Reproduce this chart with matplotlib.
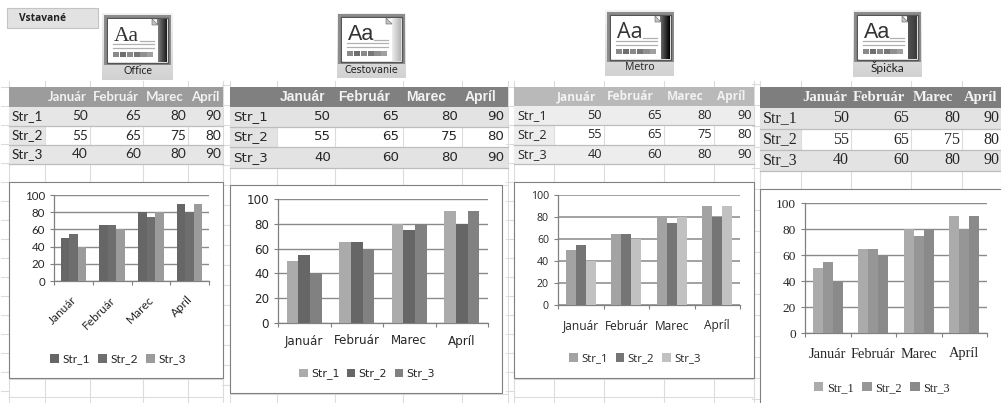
import numpy as np
import matplotlib
matplotlib.use("Agg")
import matplotlib.pyplot as plt
from matplotlib.patches import Rectangle, Polygon

W, H = 1001, 403

# ---- data ----
months = ["Január", "Február", "Marec", "Apríl"]
series_names = ["Str_1", "Str_2", "Str_3"]
str_1 = [50, 65, 80, 90]
str_2 = [55, 65, 75, 80]
str_3 = [40, 60, 80, 90]
y_ticks = [0, 20, 40, 60, 80, 100]
theme_names = ["Office", "Cestovanie", "Metro", "Špička"]
series = [str_1, str_2, str_3]

# ---- layout and styling of each theme panel, in reference pixels ----
panels = [
    dict(font="Lato", hfont="Lato", tfs=9.8, hfs=9.5, afs=8.3, xfs=8.6, lfs=8.6, rot=45, pad=2, hoff=3,
         cols=[9, 45, 90, 143, 188, 223], rows=[87, 107, 126, 145, 164, 182],
         frame=(9, 182, 223, 378), plot=(54, 195, 209, 281),
         colors=["#666666", "#6e6e6e", "#9b9b9b"], head="#9c9c9c", band="#e6e6e6",
         grid=("#8a8a8a", 1.0), xlab=298, leg=(118, 359),
         icon=(102, 13, 173, 80), inner=(107, 18, 168, 63), side=("#888888", "#1c1c1c"),
         aa="Liberation Serif", icon_font="Lato", lab_fs=7.6, lab_y=70),
    dict(font="DejaVu Sans", hfont="Liberation Sans", tfs=9.6, hfs=10, afs=8.6, xfs=8.6, lfs=7.9, rot=0, pad=4, hoff=3,
         cols=[230, 277, 335, 403, 462, 508], rows=[87, 107, 127, 147, 168, 185],
         frame=(230, 185, 502, 393), plot=(278, 199, 488, 323),
         colors=["#ababab", "#666666", "#818181"], head="#808080", band="#e3e3e3",
         grid=("#8a8a8a", 1.0), xlab=341, leg=(367, 374),
         icon=(337, 13, 406, 78), inner=(341, 17, 402, 62), side=("#f4f4f4", "#b4b4b4"),
         aa="Liberation Sans", icon_font="DejaVu Sans", lab_fs=6.9, lab_y=70),
    dict(font="Open Sans", hfont="Open Sans", tfs=9.2, hfs=8.6, afs=7.6, xfs=8.6, lfs=8.2, rot=0, pad=2, hoff=3,
         cols=[514, 554, 604, 664, 714, 754], rows=[87, 106, 125, 145, 164, 182],
         frame=(514, 182, 754, 378), plot=(558, 195, 740, 305),
         colors=["#a3a3a3", "#757575", "#c1c1c1"], head="#b9b9b9", band="#ededed",
         grid=("#9a9a9a", 1.3), xlab=326, leg=(635, 359),
         icon=(605, 10, 674, 76), inner=(610, 15, 671, 60), side=("#707070", "#000000"),
         aa="Open Sans", icon_font="Open Sans", lab_fs=7.6, lab_y=67),
    dict(font="Liberation Serif", hfont="Liberation Serif", tfs=11.5, hfs=10.6, afs=9.6, xfs=10.4, lfs=8.8, rot=0, pad=2, hoff=1.5,
         cols=[760, 801, 851, 911, 962, 1001], rows=[87, 108, 129, 150, 171, 189],
         frame=(760, 189, 1006, 410), plot=(805, 203, 987, 333),
         colors=["#ababab", "#969696", "#8a8a8a"], head="#7e7e7e", band="#e3e3e3",
         grid=("#8a8a8a", 1.0), xlab=354, leg=(882, 388),
         icon=(853, 10, 922, 77), inner=(857, 15, 918, 60), side=("#555555", "#3a3a3a"),
         aa="Liberation Sans", icon_font="Lato", lab_fs=8.6, lab_y=67),
]

TEXT = "#262626"
CELL = "#dcdcdc"

fig = plt.figure(figsize=(W / 100, H / 100), dpi=100, facecolor="white")
bg = fig.add_axes([0, 0, 1, 1], zorder=0)
bg.set_xlim(0, W)
bg.set_ylim(H, 0)
bg.axis("off")


def gradient(box, top, bottom, horizontal=False, z=2):
    x0, y0, x1, y1 = box
    ramp = np.linspace(0, 1, 32)
    img = ramp[None, :] if horizontal else ramp[:, None]
    c0 = matplotlib.colors.to_rgb(top)
    c1 = matplotlib.colors.to_rgb(bottom)
    rgb = np.dstack([c0[i] + (c1[i] - c0[i]) * img for i in range(3)])
    bg.imshow(rgb, extent=(x0, x1, y1, y0), aspect="auto", zorder=z, interpolation="bilinear")


def draw_sheet(p):
    cols, rows = p["cols"], p["rows"]
    left, right = cols[0], cols[-1]
    for x in cols:
        bg.plot([x, x], [81, H], color=CELL, lw=0.8, zorder=1)
    step = rows[2] - rows[1]
    yy = rows[-1] % step
    while yy < H:
        if yy > 81:
            bg.plot([left - 8, left], [yy, yy], color=CELL, lw=0.8, zorder=1)
        yy += step
    for yy in (rows[5], p["frame"][3] + 1, p["frame"][3] + step):
        bg.plot([left, right], [yy, yy], color=CELL, lw=0.8, zorder=1)
    bg.add_patch(Rectangle((left, rows[0]), right - left, rows[1] - rows[0],
                           fc=p["head"], ec="none", zorder=3))
    for i, m in enumerate(months):
        bg.text(cols[i + 1] + p["hoff"], (rows[0] + rows[1]) / 2, m, ha="left", va="center",
                color="#f2f2f2", fontweight="bold", fontsize=p["hfs"],
                family=p["hfont"], zorder=5)
    for r, name in enumerate(series_names):
        y0, y1 = rows[r + 1], rows[r + 2]
        if r == 1:
            bg.add_patch(Rectangle((left, y0), cols[1] - left, y1 - y0, fc=p["band"], ec="none", zorder=3))
        else:
            bg.add_patch(Rectangle((left, y0), right - left, y1 - y0, fc=p["band"], ec="none", zorder=3))
        bg.plot([left, right], [y1, y1], color="#bdbdbd", lw=0.9, zorder=4)
        bg.text(left + 3, (y0 + y1) / 2, name, ha="left", va="center", color=TEXT,
                fontsize=p["tfs"], family=p["font"], zorder=5)
        for c, v in enumerate(series[r]):
            bg.text(cols[c + 2] - p["pad"], (y0 + y1) / 2, str(v), ha="right", va="center", color=TEXT,
                    fontsize=p["tfs"], family=p["font"], zorder=5)
    fx0, fy0, fx1, fy1 = p["frame"]
    bg.add_patch(Rectangle((fx0, fy0), fx1 - fx0, fy1 - fy0, fc="white", ec="#808080", lw=0.8, zorder=6))


def draw_icon(p, name):
    x0, y0, x1, y1 = p["icon"]
    gradient((x0, y0, x1, y1), "#f2f2f2", "#d2d2d2", z=2)
    ix0, iy0, ix1, iy1 = p["inner"]
    bg.add_patch(Rectangle((ix0 - 3, iy0 - 3), ix1 - ix0 + 6, 5 + iy1 - iy0, fc="#8c8c8c", ec="none", zorder=3))
    bg.add_patch(Rectangle((ix0, iy0), ix1 - ix0, iy1 - iy0, fc="white", ec="#555555", lw=1.0, zorder=3.5))
    sx = ix0 + (ix1 - ix0) * 0.82
    gradient((sx, iy0 + 1, ix1 - 1, iy1 - 1), p["side"][0], p["side"][1], horizontal=True, z=4)
    bg.add_patch(Polygon([(ix0 + 1, iy0 + 1), (sx - 5, iy0 + 1), (sx + 1, iy0 + 7),
                          (sx + 1, iy1 - 1), (ix0 + 1, iy1 - 1)], fc="white", ec="none", zorder=4.2))
    bg.add_patch(Polygon([(sx - 5, iy0 + 1), (sx + 1, iy0 + 7), (sx - 5, iy0 + 7)],
                         fc="#c4c4c4", ec="#777777", lw=0.5, zorder=4.3))
    bg.text(ix0 + 7, iy0 + 23, "Aa", ha="left", va="baseline", fontsize=15.5,
            family=p["aa"], color="#333333", zorder=5)
    for frac, start in ((0.50, 0.54), (0.58, 0.10), (0.67, 0.10)):
        yy = iy0 + (iy1 - iy0) * frac
        bg.plot([ix0 + (ix1 - ix0) * start, sx - 3], [yy, yy], color="#b0b0b0", lw=0.9, zorder=5)
    sw_left = ix0 + 6
    sw_w = (sx - 3 - sw_left) / 6
    shades = ["#8a8a8a", "#6f6f6f", "#8a8a8a", "#777777", "#909090", "#a0a0a0"]
    for i, s in enumerate(shades):
        bg.add_patch(Rectangle((sw_left + i * sw_w, iy1 - 11), sw_w - 0.6, 5, fc=s, ec="none", zorder=5))
    bg.text((x0 + x1) / 2, p["lab_y"], name, ha="center", va="center", fontsize=p["lab_fs"],
            family=p["icon_font"], color="#222222", zorder=5)


def draw_chart(p):
    x0, y0, x1, y1 = p["plot"]
    ax = fig.add_axes([x0 / W, 1 - y1 / H, (x1 - x0) / W, (y1 - y0) / H], zorder=3)
    ax.patch.set_alpha(0)
    width = 0.22
    centers = np.arange(len(months)) + 0.5
    for i, (vals, name) in enumerate(zip(series, series_names)):
        ax.bar(centers + (i - 1) * width, vals, width, color=p["colors"][i], label=name, zorder=3)
    ax.set_xlim(0, len(months))
    ax.set_ylim(0, 100)
    ax.set_yticks(y_ticks)
    ax.set_yticklabels([str(t) for t in y_ticks], fontsize=p["afs"], family=p["font"], color=TEXT)
    ax.set_xticks(np.arange(len(months) + 1))
    ax.set_xticklabels([])
    ax.tick_params(axis="x", length=3, width=0.8, color="#808080")
    ax.tick_params(axis="y", length=3, width=0.8, color="#808080", pad=3.5)
    ax.yaxis.grid(True, color=p["grid"][0], lw=p["grid"][1], zorder=1)
    ax.set_axisbelow(True)
    for s in ("top", "right"):
        ax.spines[s].set_visible(False)
    for s in ("left", "bottom"):
        ax.spines[s].set_color("#808080")
        ax.spines[s].set_linewidth(0.9)
    group = (x1 - x0) / len(months)
    for i, m in enumerate(months):
        cx = x0 + (i + 0.5) * group
        if p["rot"]:
            bg.text(cx + 1.5, p["xlab"], m, rotation=p["rot"], rotation_mode="anchor",
                    ha="right", va="center", fontsize=p["xfs"], family=p["font"],
                    color=TEXT, zorder=7)
        else:
            bg.text(cx, p["xlab"], m, ha="center", va="center", fontsize=p["xfs"],
                    family=p["font"], color=TEXT, zorder=7)
    lx, ly = p["leg"]
    leg = ax.legend(loc="center", bbox_to_anchor=(lx / W, 1 - ly / H), bbox_transform=fig.transFigure,
                    ncol=3, frameon=False, handlelength=0.75, handleheight=0.75, handletextpad=0.3,
                    columnspacing=0.7, borderpad=0,
                    prop={"family": p["font"], "size": p["lfs"]})
    for t in leg.get_texts():
        t.set_color(TEXT)


bg.add_patch(Rectangle((7, 8), 91, 20, fc="#e2e2e2", ec="#c4c4c4", lw=0.8, zorder=2))
bg.text(19, 18.5, "Vstavané", ha="left", va="center", fontsize=7.4, fontweight="bold",
        family="Open Sans", color="#222222", zorder=3)

for panel, theme in zip(panels, theme_names):
    draw_sheet(panel)
    draw_icon(panel, theme)
    draw_chart(panel)

bg.set_xlim(0, W)
bg.set_ylim(H, 0)
fig.savefig("out.png", dpi=100, facecolor="white")
